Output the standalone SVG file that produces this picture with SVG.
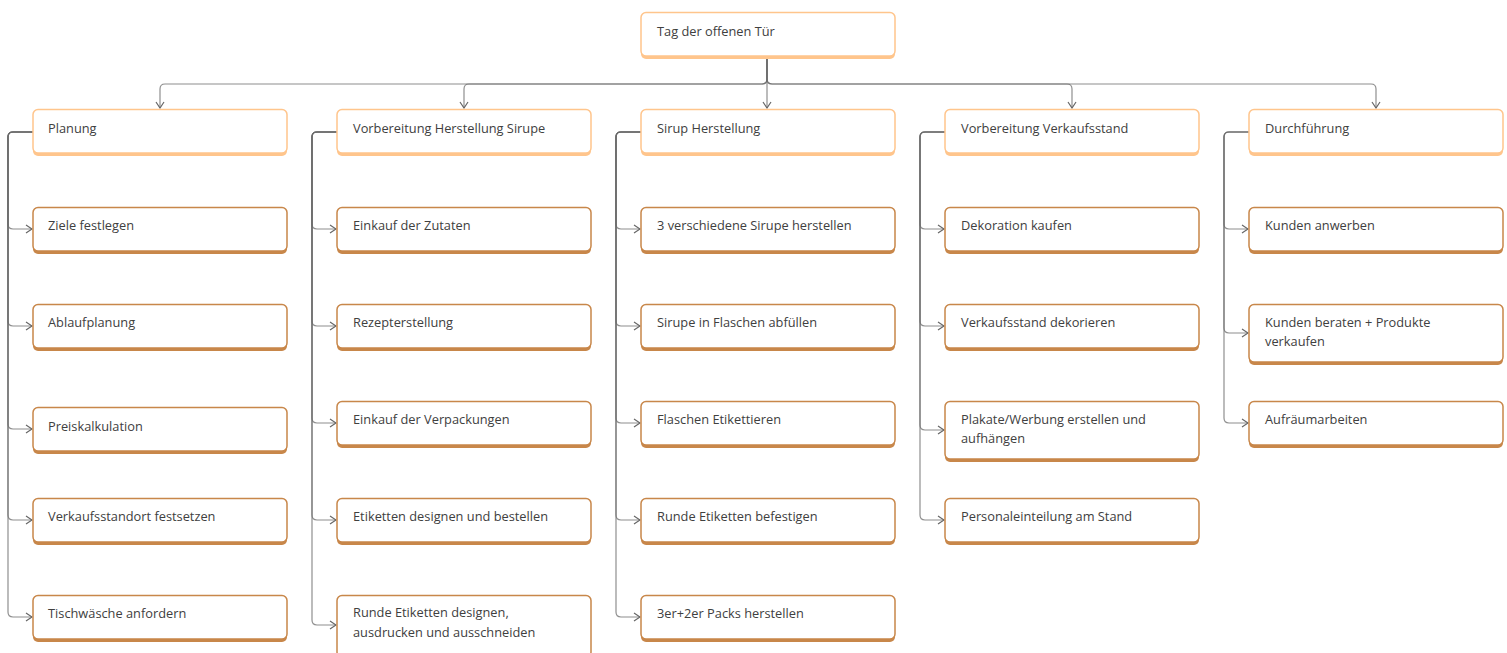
<svg xmlns="http://www.w3.org/2000/svg" width="1507" height="653" viewBox="0 0 1507 653">
<style>
.bg{fill:#ffffff}
.l1s{fill:#FFC58C}
.l1{fill:#ffffff;stroke:#FFC58C;stroke-width:1.5}
.l2s{fill:#C8874A}
.l2{fill:#ffffff;stroke:#C8874A;stroke-width:1.5}
.t{font-family:"Open Sans","Noto Sans","Liberation Sans",sans-serif;font-size:12.8px;fill:#404040}
.c{fill:none;stroke:#6a6a6a;stroke-width:1.2;stroke-opacity:0.75;marker-end:url(#ah)}
</style>
<defs>
<marker id="ah" viewBox="0 0 10 10" refX="9" refY="5" markerWidth="10" markerHeight="10" markerUnits="userSpaceOnUse" orient="auto">
<path d="M3,1 L9,5 L3,9" fill="none" stroke="#666" stroke-width="1.2"/>
</marker>
</defs>
<rect class="bg" x="0" y="0" width="1507" height="653"/>
<g id="connectors">
<path class="c" d="M767,58 V79 Q767,84 762,84 H165 Q160,84 160,89 V108"/>
<path class="c" d="M767,58 V79 Q767,84 762,84 H469 Q464,84 464,89 V108"/>
<path class="c" d="M767,58 V108"/>
<path class="c" d="M767,58 V79 Q767,84 772,84 H1067 Q1072,84 1072,89 V108"/>
<path class="c" d="M767,58 V79 Q767,84 772,84 H1371 Q1376,84 1376,89 V108"/>
<path class="c" d="M33,132 H13 Q8,132 8,137 V224 Q8,229 13,229 H32"/>
<path class="c" d="M33,132 H13 Q8,132 8,137 V321 Q8,326 13,326 H32"/>
<path class="c" d="M33,132 H13 Q8,132 8,137 V424 Q8,429 13,429 H32"/>
<path class="c" d="M33,132 H13 Q8,132 8,137 V515 Q8,520 13,520 H32"/>
<path class="c" d="M33,132 H13 Q8,132 8,137 V612 Q8,617 13,617 H32"/>
<path class="c" d="M337,132 H317 Q312,132 312,137 V224 Q312,229 317,229 H336"/>
<path class="c" d="M337,132 H317 Q312,132 312,137 V321 Q312,326 317,326 H336"/>
<path class="c" d="M337,132 H317 Q312,132 312,137 V418 Q312,423 317,423 H336"/>
<path class="c" d="M337,132 H317 Q312,132 312,137 V515 Q312,520 317,520 H336"/>
<path class="c" d="M337,132 H317 Q312,132 312,137 V620 Q312,625 317,625 H336"/>
<path class="c" d="M641,132 H621 Q616,132 616,137 V224 Q616,229 621,229 H640"/>
<path class="c" d="M641,132 H621 Q616,132 616,137 V321 Q616,326 621,326 H640"/>
<path class="c" d="M641,132 H621 Q616,132 616,137 V418 Q616,423 621,423 H640"/>
<path class="c" d="M641,132 H621 Q616,132 616,137 V515 Q616,520 621,520 H640"/>
<path class="c" d="M641,132 H621 Q616,132 616,137 V612 Q616,617 621,617 H640"/>
<path class="c" d="M945,132 H925 Q920,132 920,137 V224 Q920,229 925,229 H944"/>
<path class="c" d="M945,132 H925 Q920,132 920,137 V321 Q920,326 925,326 H944"/>
<path class="c" d="M945,132 H925 Q920,132 920,137 V425 Q920,430 925,430 H944"/>
<path class="c" d="M945,132 H925 Q920,132 920,137 V515 Q920,520 925,520 H944"/>
<path class="c" d="M1249,132 H1229 Q1224,132 1224,137 V224 Q1224,229 1229,229 H1248"/>
<path class="c" d="M1249,132 H1229 Q1224,132 1224,137 V328 Q1224,333 1229,333 H1248"/>
<path class="c" d="M1249,132 H1229 Q1224,132 1224,137 V418 Q1224,423 1229,423 H1248"/>
</g>
<g id="root"><rect class="l1s" x="641" y="15" width="254" height="44" rx="5"/><rect class="l1" x="641" y="12.5" width="254" height="43.5" rx="5"/><text class="t" x="657" y="36">Tag der offenen Tür</text></g>
<g id="planung"><rect class="l1s" x="33" y="112" width="254" height="44" rx="5"/><rect class="l1" x="33" y="109.5" width="254" height="43.5" rx="5"/><text class="t" x="48" y="133">Planung</text></g>
<g id="vorbereitung-sirupe"><rect class="l1s" x="337" y="112" width="254" height="44" rx="5"/><rect class="l1" x="337" y="109.5" width="254" height="43.5" rx="5"/><text class="t" x="353" y="133">Vorbereitung Herstellung Sirupe</text></g>
<g id="sirup-herstellung"><rect class="l1s" x="641" y="112" width="254" height="44" rx="5"/><rect class="l1" x="641" y="109.5" width="254" height="43.5" rx="5"/><text class="t" x="657" y="133">Sirup Herstellung</text></g>
<g id="vorbereitung-verkaufsstand"><rect class="l1s" x="945" y="112" width="254" height="44" rx="5"/><rect class="l1" x="945" y="109.5" width="254" height="43.5" rx="5"/><text class="t" x="961" y="133">Vorbereitung Verkaufsstand</text></g>
<g id="durchfuehrung"><rect class="l1s" x="1249" y="112" width="254" height="44" rx="5"/><rect class="l1" x="1249" y="109.5" width="254" height="43.5" rx="5"/><text class="t" x="1265" y="133">Durchführung</text></g>
<g id="ziele"><rect class="l2s" x="33" y="210" width="254" height="44" rx="5"/><rect class="l2" x="33" y="207.5" width="254" height="43.5" rx="5"/><text class="t" x="48" y="230">Ziele festlegen</text></g>
<g id="ablauf"><rect class="l2s" x="33" y="307" width="254" height="44" rx="5"/><rect class="l2" x="33" y="304.5" width="254" height="43.5" rx="5"/><text class="t" x="48" y="327">Ablaufplanung</text></g>
<g id="preis"><rect class="l2s" x="33" y="410" width="254" height="44" rx="5"/><rect class="l2" x="33" y="407.5" width="254" height="43.5" rx="5"/><text class="t" x="48" y="431">Preiskalkulation</text></g>
<g id="standort"><rect class="l2s" x="33" y="501" width="254" height="44" rx="5"/><rect class="l2" x="33" y="498.5" width="254" height="43.5" rx="5"/><text class="t" x="48" y="521">Verkaufsstandort festsetzen</text></g>
<g id="tisch"><rect class="l2s" x="33" y="598" width="254" height="44" rx="5"/><rect class="l2" x="33" y="595.5" width="254" height="43.5" rx="5"/><text class="t" x="48" y="618">Tischwäsche anfordern</text></g>
<g id="zutaten"><rect class="l2s" x="337" y="210" width="254" height="44" rx="5"/><rect class="l2" x="337" y="207.5" width="254" height="43.5" rx="5"/><text class="t" x="353" y="230">Einkauf der Zutaten</text></g>
<g id="rezept"><rect class="l2s" x="337" y="307" width="254" height="44" rx="5"/><rect class="l2" x="337" y="304.5" width="254" height="43.5" rx="5"/><text class="t" x="353" y="327">Rezepterstellung</text></g>
<g id="verpackungen"><rect class="l2s" x="337" y="404" width="254" height="44" rx="5"/><rect class="l2" x="337" y="401.5" width="254" height="43.5" rx="5"/><text class="t" x="353" y="424">Einkauf der Verpackungen</text></g>
<g id="etiketten"><rect class="l2s" x="337" y="501" width="254" height="44" rx="5"/><rect class="l2" x="337" y="498.5" width="254" height="43.5" rx="5"/><text class="t" x="353" y="521">Etiketten designen und bestellen</text></g>
<g id="runde-etiketten"><rect class="l2s" x="337" y="598" width="254" height="62" rx="5"/><rect class="l2" x="337" y="595.5" width="254" height="61.5" rx="5"/><text class="t" x="353" y="617">Runde Etiketten designen,</text><text class="t" x="353" y="637">ausdrucken und ausschneiden</text></g>
<g id="drei-sirupe"><rect class="l2s" x="641" y="210" width="254" height="44" rx="5"/><rect class="l2" x="641" y="207.5" width="254" height="43.5" rx="5"/><text class="t" x="657" y="230">3 verschiedene Sirupe herstellen</text></g>
<g id="abfuellen"><rect class="l2s" x="641" y="307" width="254" height="44" rx="5"/><rect class="l2" x="641" y="304.5" width="254" height="43.5" rx="5"/><text class="t" x="657" y="327">Sirupe in Flaschen abfüllen</text></g>
<g id="flaschen-etikett"><rect class="l2s" x="641" y="404" width="254" height="44" rx="5"/><rect class="l2" x="641" y="401.5" width="254" height="43.5" rx="5"/><text class="t" x="657" y="424">Flaschen Etikettieren</text></g>
<g id="runde-befestigen"><rect class="l2s" x="641" y="501" width="254" height="44" rx="5"/><rect class="l2" x="641" y="498.5" width="254" height="43.5" rx="5"/><text class="t" x="657" y="521">Runde Etiketten befestigen</text></g>
<g id="packs"><rect class="l2s" x="641" y="598" width="254" height="44" rx="5"/><rect class="l2" x="641" y="595.5" width="254" height="43.5" rx="5"/><text class="t" x="657" y="618">3er+2er Packs herstellen</text></g>
<g id="deko-kaufen"><rect class="l2s" x="945" y="210" width="254" height="44" rx="5"/><rect class="l2" x="945" y="207.5" width="254" height="43.5" rx="5"/><text class="t" x="961" y="230">Dekoration kaufen</text></g>
<g id="stand-dekorieren"><rect class="l2s" x="945" y="307" width="254" height="44" rx="5"/><rect class="l2" x="945" y="304.5" width="254" height="43.5" rx="5"/><text class="t" x="961" y="327">Verkaufsstand dekorieren</text></g>
<g id="plakate"><rect class="l2s" x="945" y="404" width="254" height="58" rx="5"/><rect class="l2" x="945" y="401.5" width="254" height="57.5" rx="5"/><text class="t" x="961" y="424">Plakate/Werbung erstellen und</text><text class="t" x="961" y="443">aufhängen</text></g>
<g id="personal"><rect class="l2s" x="945" y="501" width="254" height="44" rx="5"/><rect class="l2" x="945" y="498.5" width="254" height="43.5" rx="5"/><text class="t" x="961" y="521">Personaleinteilung am Stand</text></g>
<g id="kunden-anwerben"><rect class="l2s" x="1249" y="210" width="254" height="44" rx="5"/><rect class="l2" x="1249" y="207.5" width="254" height="43.5" rx="5"/><text class="t" x="1265" y="230">Kunden anwerben</text></g>
<g id="kunden-beraten"><rect class="l2s" x="1249" y="307" width="254" height="58" rx="5"/><rect class="l2" x="1249" y="304.5" width="254" height="57.5" rx="5"/><text class="t" x="1265" y="327">Kunden beraten + Produkte</text><text class="t" x="1265" y="346">verkaufen</text></g>
<g id="aufraeumen"><rect class="l2s" x="1249" y="404" width="254" height="44" rx="5"/><rect class="l2" x="1249" y="401.5" width="254" height="43.5" rx="5"/><text class="t" x="1265" y="424">Aufräumarbeiten</text></g>
</svg>
